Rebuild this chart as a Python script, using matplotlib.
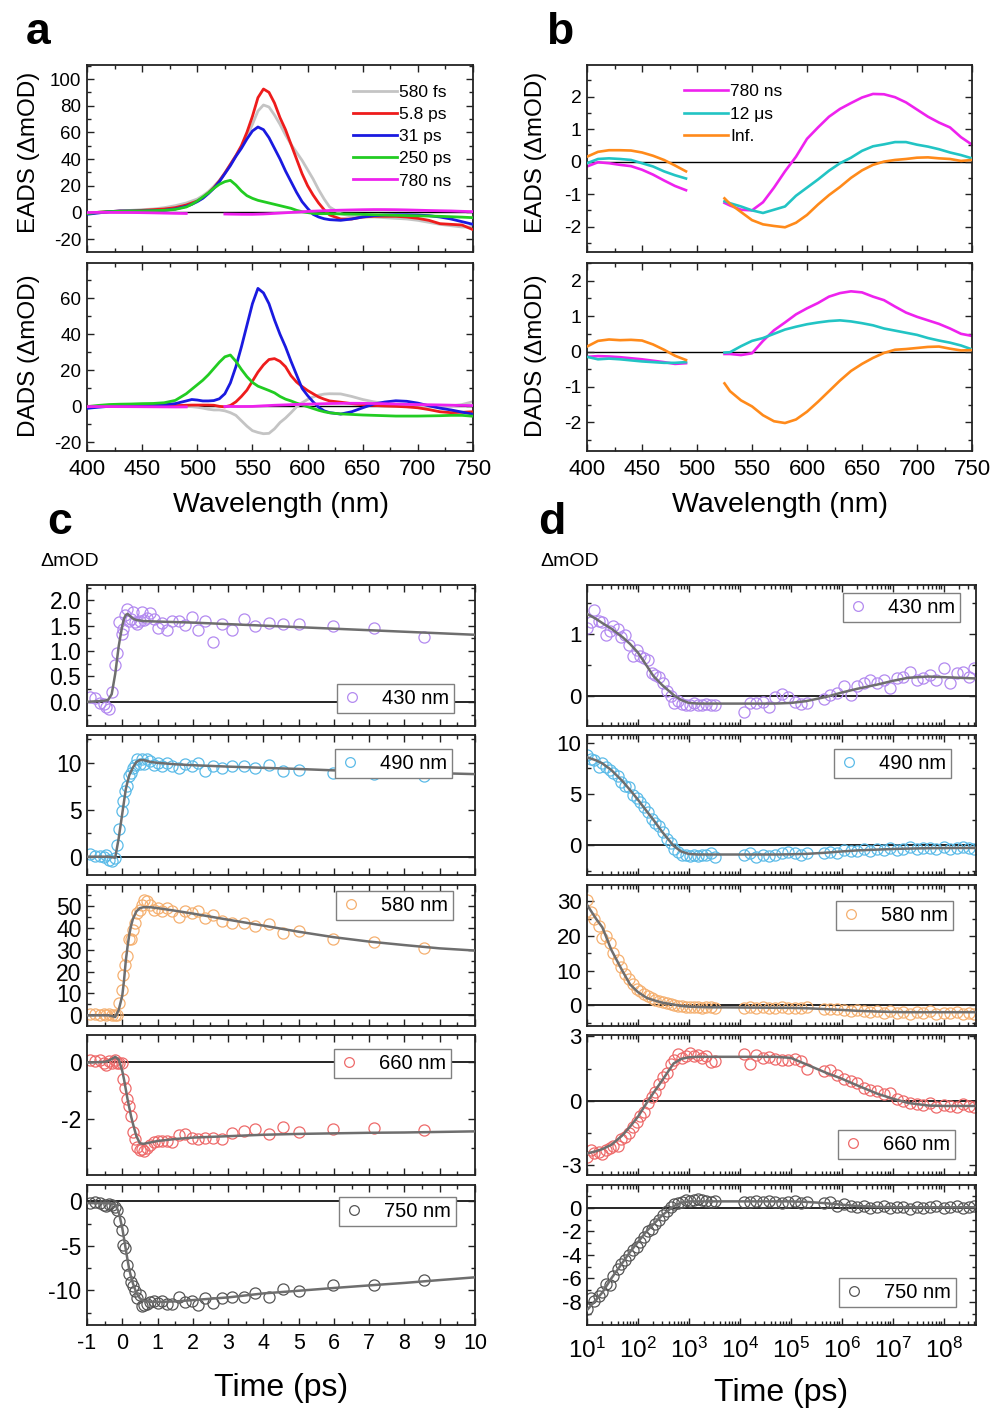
import numpy as np
import matplotlib
matplotlib.use('Agg')
import matplotlib.pyplot as plt
from matplotlib.ticker import MultipleLocator, FormatStrFormatter, LogLocator, NullFormatter
from matplotlib.lines import Line2D

plt.rcParams['font.family'] = ['Liberation Sans', 'DejaVu Sans']
plt.rcParams['mathtext.fontset'] = 'custom'
plt.rcParams['mathtext.rm'] = 'Liberation Sans'
plt.rcParams['mathtext.it'] = 'Liberation Sans:italic'
plt.rcParams['mathtext.bf'] = 'Liberation Sans:bold'
plt.rcParams['axes.unicode_minus'] = False

# ---------------- data: panel a (EADS / DADS, ps components) ----------------
wl_a = [400, 410, 420, 430, 440, 450, 460, 470, 480, 490,
        495, 500, 505, 510, 515, 520, 525, 530, 535, 540, 545, 550, 555, 560, 565,
        570, 575, 580, 585, 590, 595, 600, 605, 610, 615, 620,
        630, 640, 650, 660, 670, 680, 690, 700, 710, 720, 730, 740, 750]

eads_580fs = [-1, 0, 0.5, 1, 1.5, 2, 2.5, 3.5, 5, 7,
              8.5, 10, 12.5, 15.5, 19.5, 24, 29.5, 36, 42.5, 49, 57, 66, 76, 80.5, 79,
              73, 66, 58, 51, 45, 39, 32, 25, 17, 10, 4,
              -1, -3, -3.5, -3.5, -4, -4.5, -5, -6, -7.5, -9, -10, -11, -11]
eads_5p8ps = [-1, 0, 0.5, 1, 1, 1.5, 2, 2.5, 3.5, 5.5,
              7, 8.5, 11, 14.5, 18.5, 23.5, 29.5, 36, 42.5, 50, 60, 72, 86, 92.5, 90,
              82, 71, 62, 51, 40, 29, 20, 13, 7, 2, -2,
              -5, -5, -3.5, -3, -3, -3, -3.5, -4.5, -6, -8.5, -9, -9.5, -13]
eads_31ps = [-1.5, -0.5, 0.5, 1, 1, 1, 1.2, 1.5, 2.5, 4.5,
             6, 8, 10.5, 14, 18, 23, 29, 35, 42, 48, 55, 61, 64, 62, 56,
             48, 40, 31, 23, 15, 8, 3, -1.5, -3.5, -4.8, -5.5,
             -6, -5, -3.5, -2.5, -2, -1.8, -1.8, -2, -2.5, -3.5, -5, -7, -9]
eads_250ps = [-1, 0, 0.5, 0.8, 1, 1, 1.2, 1.5, 2.2, 4,
              6, 8.5, 11.5, 14.5, 18, 21, 23, 24, 20.5, 16, 12.5, 10.5, 9, 8, 7,
              6, 5, 4, 3, 1.5, 0.5, -0.2, -0.8, -1, -1, -1,
              -1.2, -1.3, -1.5, -1.8, -2, -2.2, -2.4, -2.6, -2.8, -3, -3.3, -3.6, -4]

dads_580fs = [0, 0, 0, 0, 0, 0, 0, 0, 0, -0.1,
              -0.2, -0.5, -1, -1.6, -2, -2, -2.5, -3.5, -5, -8, -11, -13.5, -14.5, -15.2, -15,
              -12.5, -9, -6.5, -3.5, -0.3, 2, 3.8, 5.2, 6.2, 6.8, 7,
              6.9, 5.5, 3.8, 2.5, 1.5, 0.6, 0, -0.2, -0.3, -0.2, 0.2, 1, 2.6]
dads_5p8ps = [0, 0, 0, 0, 0, 0, 0, 0.2, 0.4, 0.6,
              0.7, 0.7, 0.7, 0.7, 0.6, 0, -0.3, 0.5, 2.5, 5.5, 9, 14, 19, 23, 26,
              26.5, 25, 22, 17, 13.5, 11, 8.8, 7, 5.2, 4, 3,
              2.3, 1.5, 0.9, 0.5, 0.2, 0, -0.3, -0.8, -1.8, -3, -3.5, -3.3, -3]
dads_31ps = [-1.1, -0.5, 0, 0.3, 0.5, 0.6, 0.7, 0.9, 1.5, 3,
             3.8, 3.5, 3, 3, 3.2, 4.2, 7, 13, 22, 33, 45, 57, 65.5, 63, 57,
             48, 40, 33, 25, 17.5, 10, 6, 2.5, -0.5, -2.5, -3.5,
             -4.3, -3, -0.8, 1.3, 2.4, 3.1, 2.8, 1.8, 0.3, -1, -2, -3.2, -4.4]
dads_250ps = [-0.2, 0.5, 1, 1.2, 1.3, 1.5, 1.6, 2, 3.3, 7,
              9.5, 12, 14.5, 17.5, 21, 24.5, 27.5, 28.5, 25, 20.5, 16.5, 13.3, 11.2, 10, 8.8,
              7.5, 5.5, 4, 3, 1.8, 0.8, -0.2, -1.2, -2.2, -3, -3.6,
              -4.2, -4.5, -4.8, -5, -5.2, -5.4, -5.4, -5.4, -5.3, -5.2, -5, -5, -5.5]

# ---------------- data: panel b (ns/us components) ----------------
wl_b = [400, 410, 420, 430, 440, 450, 460, 470, 480, 490,
        525, 530, 540, 550, 560, 570, 580, 590, 600, 610, 620, 630, 640, 650,
        660, 670, 680, 690, 700, 710, 720, 730, 740, 750]
eads_780ns = [-0.15, -0.02, -0.05, -0.1, -0.14, -0.25, -0.4, -0.58, -0.75, -0.88,
              -1.27, -1.35, -1.48, -1.5, -1.25, -0.8, -0.3, 0.15, 0.7, 1.05, 1.38, 1.62, 1.8, 1.97,
              2.08, 2.07, 1.98, 1.82, 1.6, 1.38, 1.2, 1.05, 0.75, 0.52]
eads_12us = [-0.05, 0.08, 0.1, 0.08, 0.05, -0.05, -0.15, -0.3, -0.42, -0.52,
             -1.22, -1.28, -1.38, -1.5, -1.58, -1.48, -1.38, -1.05, -0.8, -0.55, -0.28, -0.05, 0.12, 0.33,
             0.47, 0.53, 0.6, 0.6, 0.52, 0.46, 0.38, 0.28, 0.2, 0.1]
eads_inf = [0.15, 0.3, 0.35, 0.35, 0.34, 0.28, 0.18, 0.05, -0.12, -0.3,
            -1.13, -1.3, -1.55, -1.8, -1.93, -1.98, -2.02, -1.88, -1.64, -1.32, -1.03, -0.78, -0.5, -0.27,
            -0.1, 0.0, 0.05, 0.08, 0.12, 0.13, 0.1, 0.08, 0.02, 0.05]
dads_780ns = [-0.15, -0.13, -0.14, -0.16, -0.19, -0.22, -0.26, -0.3, -0.35, -0.33,
              -0.07, -0.07, -0.1, -0.05, 0.3, 0.6, 0.82, 1.05, 1.22, 1.37, 1.55, 1.65, 1.7, 1.67,
              1.55, 1.45, 1.27, 1.1, 0.98, 0.88, 0.78, 0.65, 0.5, 0.44]
dads_12us = [-0.15, -0.22, -0.2, -0.22, -0.25, -0.28, -0.3, -0.32, -0.32, -0.3,
             -0.03, -0.02, 0.15, 0.3, 0.38, 0.5, 0.62, 0.7, 0.77, 0.82, 0.86, 0.88, 0.85, 0.8,
             0.74, 0.65, 0.59, 0.53, 0.47, 0.38, 0.31, 0.25, 0.17, 0.06]
dads_inf = [0.14, 0.3, 0.34, 0.32, 0.33, 0.31, 0.2, 0.05, -0.12, -0.24,
            -0.9, -1.12, -1.38, -1.55, -1.8, -1.97, -2.02, -1.92, -1.7, -1.42, -1.12, -0.82, -0.55, -0.35,
            -0.18, -0.04, 0.05, 0.07, 0.1, 0.13, 0.14, 0.08, 0.03, 0.04]

# ---------------- data: panel c (kinetics, linear time) ----------------
t_c = [-0.92, -0.78, -0.64, -0.53, -0.45, -0.37, -0.28, -0.2, -0.14, -0.08, -0.02,
       0.03, 0.08, 0.13, 0.18, 0.24, 0.3, 0.36, 0.42, 0.49, 0.56, 0.63, 0.71, 0.8, 0.9,
       1.0, 1.12, 1.27, 1.42, 1.6, 1.78, 1.97, 2.16, 2.35, 2.56, 2.83, 3.12, 3.45, 3.77,
       4.15, 4.55, 5.0, 5.97, 7.15, 8.55]
c430 = [0.09, 0.08, -0.03, -0.05, -0.1, -0.15, 0.19, 0.72, 0.96, 1.57, 1.33,
        1.44, 1.7, 1.82, 1.6, 1.64, 1.77, 1.57, 1.54, 1.6, 1.77, 1.62, 1.66, 1.75, 1.64,
        1.46, 1.55, 1.41, 1.6, 1.6, 1.51, 1.67, 1.41, 1.59, 1.18, 1.53, 1.41, 1.64, 1.49,
        1.56, 1.53, 1.54, 1.49, 1.46, 1.28]
c490 = [0.28, 0.04, 0.1, -0.07, 0.2, -0.3, -0.43, -0.14, 1.2, 3.0, 4.84,
        5.98, 6.97, 7.5, 8.58, 8.93, 9.47, 9.82, 10.36, 9.9, 10.36, 9.9, 10.36, 10.18, 9.82,
        10.0, 9.64, 10.0, 9.64, 9.4, 9.9, 9.64, 10.0, 9.18, 9.64, 9.4, 9.64, 9.64, 9.4,
        9.75, 9.11, 9.29, 8.93, 8.8, 8.58]
c580 = [0.6, 0.6, 0.3, 0.6, 0.0, 0.6, 0.3, 0.0, 0.0, 5.6, 11.7,
        18.3, 23.2, 27, 35, 35, 39.2, 42.2, 46.8, 48.3, 50.6, 52.9, 52.1, 50.6, 48.3,
        49.1, 47.9, 49.1, 47.6, 44.8, 47.6, 46.8, 47.6, 44.5, 46, 43.3, 42.2, 42.2, 40.7,
        41.8, 37.7, 38.4, 35, 33.5, 30.8]
c660 = [0.09, 0.04, 0.09, -0.02, -0.1, 0.04, -0.02, 0.07, -0.02, -0.02, -0.02,
        -0.6, -0.9, -1.3, -1.55, -1.9, -2.45, -2.7, -2.98, -3.1, -3.05, -3.14, -3.0, -2.92, -2.8,
        -2.78, -2.77, -2.78, -2.8, -2.57, -2.54, -2.66, -2.69, -2.66, -2.66, -2.71, -2.5, -2.41, -2.33,
        -2.54, -2.27, -2.47, -2.33, -2.31, -2.39]
c750 = [-0.19, -0.07, -0.19, -0.37, -0.56, -0.3, -0.45, -0.67, -0.94, -2.17, -3.18,
        -4.87, -5.24, -7.19, -8.16, -9.06, -9.55, -10.1, -10.9, -10.5, -11.8, -11.7, -11.5, -11.3, -11.2,
        -11.4, -11.2, -11.5, -11.5, -10.7, -11.3, -11.2, -11.6, -10.9, -11.4, -10.9, -10.7, -10.7, -10.3,
        -10.8, -9.9, -10.1, -9.44, -9.36, -8.8]

tfit_c = [-1, -0.5, -0.4, -0.3, -0.2, -0.1, 0, 0.05, 0.1, 0.15, 0.2, 0.25, 0.3, 0.4,
          0.5, 0.6, 0.8, 1.0, 1.5, 2, 3, 4, 5, 6, 7, 8, 9, 10]
fit_c430 = [0, 0.02, 0.04, 0.15, 0.55, 1.1, 1.5, 1.64, 1.71, 1.73, 1.7, 1.67, 1.64, 1.61,
            1.6, 1.59, 1.585, 1.58, 1.57, 1.56, 1.53, 1.5, 1.47, 1.44, 1.41, 1.38, 1.35, 1.32]
fit_c490 = [0, 0, 0, -0.05, -0.1, 2.0, 4.6, 5.9, 7.2, 8.0, 8.7, 9.1, 9.5, 10.1,
            10.3, 10.3, 10.1, 10.0, 9.85, 9.75, 9.6, 9.47, 9.35, 9.2, 9.1, 9.0, 8.9, 8.8]
fit_c580 = [0, 0, 0, -0.3, -0.8, 2.5, 9, 16, 25, 31.5, 37, 41, 44, 47.5,
            49, 49.4, 49.4, 49, 47.8, 46.5, 43.7, 41, 38.2, 35.7, 33.7, 32.1, 30.6, 29.6]
fit_c660 = [0, 0.02, 0.06, 0.12, 0.2, 0.1, -0.3, -0.6, -0.95, -1.3, -1.6, -1.9, -2.15, -2.6,
            -2.85, -2.87, -2.82, -2.77, -2.7, -2.65, -2.6, -2.55, -2.52, -2.5, -2.48, -2.47, -2.45, -2.43]
fit_c750 = [-0.2, -0.2, -0.22, -0.25, -0.35, -1.2, -3.0, -4.2, -5.4, -6.6, -7.7, -8.5, -9.2, -10.3,
            -10.9, -11.2, -11.3, -11.3, -11.25, -11.1, -10.8, -10.35, -10.05, -9.74, -9.45, -9.17, -8.85, -8.54]

# ---------------- data: panel d (kinetics, log time) ----------------
t_d = [10, 12, 14, 17, 20, 24, 28, 33, 40, 47, 56, 66, 79, 94, 110, 130, 155, 185, 220, 260,
       310, 370, 440, 520, 620, 740, 880, 1050, 1250, 1500, 1800, 2200, 2700, 3300,
       12000, 16000, 21000, 28000, 37000, 50000, 66000, 88000, 120000, 160000, 210000,
       4.5e5, 6e5, 8e5, 1.1e6, 1.5e6, 2e6, 2.7e6, 3.6e6, 5e6, 6.6e6, 9e6, 1.2e7, 1.6e7,
       2.2e7, 3e7, 4e7, 5.4e7, 7.2e7, 1e8, 1.3e8, 1.8e8, 2.4e8, 3.2e8, 4e8]
d430 = [1.1, 1.19, 1.39, 1.22, 1.2, 0.99, 1.05, 1.14, 1.08, 0.95, 0.98, 0.82, 0.64, 0.74, 0.64,
        0.62, 0.58, 0.36, 0.33, 0.3, 0.2, 0.07, 0.0, -0.12, -0.08, -0.14, -0.15, -0.15, -0.12,
        -0.15, -0.15, -0.13, -0.16, -0.15,
        -0.26, -0.12, -0.125, -0.11, -0.18, -0.02, 0.03, -0.02, -0.1, -0.13, -0.12,
        -0.05, 0.01, 0.04, 0.15, 0.01, 0.15, 0.2, 0.26, 0.2, 0.26, 0.12, 0.28, 0.31, 0.39,
        0.25, 0.28, 0.33, 0.25, 0.45, 0.2, 0.36, 0.39, 0.31, 0.45]
d490 = [8.8, 8.4, 8.3, 7.6, 8.0, 7.6, 7.4, 7.1, 6.8, 6.2, 5.8, 5.7, 4.9, 4.6, 4.2, 3.7, 3.3,
        2.6, 2.2, 1.9, 1.3, 0.6, 0.2, -0.4, -0.7, -0.9, -0.9, -1.0, -0.9, -1.0, -0.9, -0.95,
        -0.8, -1.1,
        -0.9, -0.8, -1.1, -0.9, -1.0, -0.9, -0.8, -0.7, -0.75, -0.9, -0.8,
        -0.8, -0.7, -0.75, -0.5, -0.6, -0.55, -0.4, -0.6, -0.35, -0.5, -0.3, -0.45, -0.35, -0.2,
        -0.4, -0.3, -0.25, -0.4, -0.2, -0.35, -0.3, -0.15, -0.3, -0.4]
d580 = [30.5, 27, 25, 23, 19.5, 20, 18, 15, 13, 11, 9, 7.5, 6, 4.8, 4, 3.2, 2.6, 2.0, 1.6,
        1.3, 0.9, 0.6, 0.3, 0.1, -0.2, -0.3, -0.5, -0.4, -0.6, -0.5, -0.7, -0.6, -0.5, -0.8,
        -0.8, -0.5, -0.9, -0.6, -0.7, -0.9, -0.6, -0.8, -0.7, -0.9, -0.6,
        -1.1, -1.2, -1.0, -1.4, -1.6, -1.3, -1.7, -1.9, -1.6, -2.1, -1.8, -2.2, -1.9, -2.4,
        -2.0, -2.3, -1.8, -2.5, -2.1, -2.3, -1.9, -2.6, -2.2, -2.4]
d660 = [-2.6, -2.3, -2.45, -2.4, -2.5, -2.3, -2.2, -2.1, -2.1, -1.8, -1.7, -1.5, -1.2, -1.0,
        -0.7, -0.5, -0.1, 0.2, 0.4, 0.8, 1.1, 1.3, 1.7, 1.9, 2.2, 2.0, 2.1, 2.25, 2.1, 2.15,
        2.0, 2.1, 1.8, 1.85,
        2.2, 1.7, 2.15, 2.0, 2.05, 1.95, 1.9, 1.9, 1.95, 1.85, 1.5,
        1.4, 1.45, 1.2, 1.0, 0.9, 0.85, 0.6, 0.5, 0.45, 0.3, 0.35, 0.1, 0.0, -0.1, -0.15,
        -0.2, -0.1, -0.3, -0.2, -0.25, -0.3, -0.15, -0.25, -0.3]
d750 = [-8.6, -7.7, -7.9, -7.5, -7.2, -6.5, -6.6, -5.8, -5.2, -4.8, -4.4, -4.0, -3.6, -3.3,
        -2.9, -2.5, -2.0, -1.8, -1.4, -1.0, -0.6, -0.3, 0.1, 0.3, 0.4, 0.5, 0.7, 0.6, 0.7, 0.8,
        0.7, 0.6, 0.5, 0.6,
        0.5, 0.5, 0.6, 0.5, 0.6, 0.5, 0.4, 0.5, 0.6, 0.4, 0.5,
        0.4, 0.5, 0.2, 0.3, 0.2, 0.1, 0.2, 0.0, 0.1, 0.2, 0.0, 0.1, 0.1, -0.1, 0.1, 0.0,
        0.1, 0.2, 0.0, 0.1, 0.2, 0.0, 0.1, 0.2]

tfit_d = [10, 15, 20, 30, 50, 70, 100, 150, 200, 300, 500, 700, 1000, 1500, 2000, 3000,
          5000, 1e4, 2e4, 5e4, 1e5, 2e5, 5e5, 1e6, 2e6, 5e6, 1e7, 2e7, 5e7, 1e8, 2e8, 4e8]
fit_d430 = [1.33, 1.25, 1.18, 1.09, 0.95, 0.84, 0.7, 0.48, 0.32, 0.17, 0.01, -0.07, -0.12,
            -0.13, -0.13, -0.13, -0.13, -0.13, -0.13, -0.13, -0.12, -0.09, -0.02, 0.05, 0.11,
            0.18, 0.24, 0.29, 0.31, 0.3, 0.29, 0.28]
fit_d490 = [8.6, 8.3, 8.0, 7.35, 6.25, 5.4, 4.45, 3.3, 2.5, 1.3, -0.05, -0.6, -0.85, -0.9,
            -0.9, -0.9, -0.9, -0.9, -0.9, -0.9, -0.88, -0.84, -0.72, -0.6, -0.5, -0.42, -0.36,
            -0.32, -0.28, -0.27, -0.26, -0.26]
fit_d580 = [29, 25, 22.5, 16, 9.8, 6, 3.8, 2.1, 1.5, 0.75, 0.2, -0.2, -0.4, -0.5, -0.55, -0.6,
            -0.62, -0.65, -0.68, -0.72, -0.75, -0.85, -1.12, -1.35, -1.6, -1.82, -1.95, -2.0,
            -2.0, -2.0, -2.0, -2.0]
fit_d660 = [-2.45, -2.35, -2.25, -2.05, -1.6, -1.2, -0.74, -0.08, 0.36, 0.96, 1.74, 1.95, 2.03,
            2.05, 2.05, 2.05, 2.05, 2.05, 2.05, 2.05, 2.0, 1.7, 1.3, 1.03, 0.72, 0.33, 0.1, -0.1,
            -0.22, -0.24, -0.24, -0.24]
fit_d750 = [-8.7, -7.82, -7.2, -6.0, -4.65, -3.75, -2.9, -1.95, -1.4, -0.62, 0.15, 0.45, 0.56,
            0.56, 0.56, 0.56, 0.56, 0.56, 0.56, 0.56, 0.56, 0.52, 0.4, 0.28, 0.17, 0.09, 0.07,
            0.06, 0.06, 0.06, 0.06, 0.06]

labels_a = ['580 fs', '5.8 ps', '31 ps', '250 ps', '780 ns']
labels_b = ['780 ns', '12 μs', 'Inf.']
kin_labels = ['430 nm', '490 nm', '580 nm', '660 nm', '750 nm']

# ---------------- styling ----------------
W, H = 994, 1414
fig = plt.figure(figsize=(W / 100, H / 100), dpi=100)

def add_ax(l, t, r, b):
    return fig.add_axes([l / W, 1 - b / H, (r - l) / W, (b - t) / H])

def style(ax, ylab=13, xlab=16, xpad=6):
    for s in ax.spines.values():
        s.set_linewidth(1.3)
        s.set_color('#222222')
    ax.tick_params(which='both', direction='in', top=True, right=True, width=1.0, color='#222222')
    ax.tick_params(which='major', length=5)
    ax.tick_params(which='minor', length=3)
    ax.tick_params(axis='y', labelsize=ylab, pad=4)
    ax.tick_params(axis='x', labelsize=xlab, pad=xpad)

def gap(x, y):
    x = np.asarray(x, float); y = np.asarray(y, float)
    idx = np.where(np.diff(x) > 20)[0]
    return np.insert(x, idx + 1, np.nan), np.insert(y, idx + 1, np.nan)

c_grey, c_red, c_blue, c_green, c_mag = '#c4c4c4', '#ee1c1c', '#1a1ae0', '#22cc22', '#ee22ee'
c_cyan, c_orange = '#22c4c4', '#ff8a1a'

# ---- panel a ----
axa1 = add_ax(87, 65, 473, 252)
axa2 = add_ax(87, 263, 473, 451)
for ax, series, ylim in [(axa1, [eads_580fs, eads_5p8ps, eads_31ps, eads_250ps, eads_780ns], (-29.75, 110.5)),
                         (axa2, [dads_580fs, dads_5p8ps, dads_31ps, dads_250ps, dads_780ns], (-24.8, 79.6))]:
    ax.axhline(0, color='k', lw=1.0, zorder=1)
    cols = [c_grey, c_red, c_blue, c_green, c_mag]
    for i, (s, col) in enumerate(zip(series, cols)):
        if i == 4:
            xx, yy = gap(wl_b, s)
        else:
            xx, yy = wl_a, s
        ax.plot(xx, yy, color=col, lw=2.0, label=labels_a[i], zorder=2 + i)
    ax.set_xlim(400, 750)
    ax.set_ylim(*ylim)
    ax.xaxis.set_major_locator(MultipleLocator(50))
    ax.xaxis.set_minor_locator(MultipleLocator(25))
    ax.yaxis.set_major_locator(MultipleLocator(20))
    ax.yaxis.set_minor_locator(MultipleLocator(10))
    style(ax, ylab=13.5, xlab=16)
axa1.tick_params(axis='x', labelbottom=False)
axa1.legend(loc='upper left', bbox_to_anchor=(353 / W, 1 - 85 / H), bbox_transform=fig.transFigure,
            frameon=False, fontsize=12.5, handlelength=2.55, handletextpad=0.1,
            labelspacing=0.4, borderpad=0, borderaxespad=0)

# ---- panel b ----
axb1 = add_ax(587, 65, 972, 252)
axb2 = add_ax(587, 263, 972, 451)
for ax, series, ylim in [(axb1, [eads_780ns, eads_12us, eads_inf], (-2.78, 2.97)),
                         (axb2, [dads_780ns, dads_12us, dads_inf], (-2.81, 2.5))]:
    ax.axhline(0, color='k', lw=1.0, zorder=1)
    for i, (s, col) in enumerate(zip(series, [c_mag, c_cyan, c_orange])):
        xx, yy = gap(wl_b, s)
        ax.plot(xx, yy, color=col, lw=1.9, label=labels_b[i], zorder=2 + i)
    ax.set_xlim(400, 750)
    ax.set_ylim(*ylim)
    ax.xaxis.set_major_locator(MultipleLocator(50))
    ax.xaxis.set_minor_locator(MultipleLocator(25))
    ax.yaxis.set_major_locator(MultipleLocator(1))
    ax.yaxis.set_minor_locator(MultipleLocator(0.5))
    style(ax, ylab=14, xlab=16)
axb1.tick_params(axis='x', labelbottom=False)
axb1.legend(loc='upper left', bbox_to_anchor=(684 / W, 1 - 84 / H), bbox_transform=fig.transFigure,
            frameon=False, fontsize=12.5, handlelength=2.55, handletextpad=0.1,
            labelspacing=0.42, borderpad=0, borderaxespad=0)

# ---- panels c and d ----
rows = [(585, 725.7), (734.7, 875.3), (884.7, 1025.7), (1034.7, 1175.3), (1184.7, 1325)]
kcols = ['#b38af0', '#5bbbe8', '#f5b070', '#ee6a6a', '#555555']
c_data = [c430, c490, c580, c660, c750]
c_fits = [fit_c430, fit_c490, fit_c580, fit_c660, fit_c750]
c_ylims = [(-0.47, 2.3), (-1.98, 13.0), (-4.75, 59.7), (-3.98, 0.98), (-13.9, 1.87)]
c_ymaj = [0.5, 5, 10, 2, 5]
c_ymin = [0.25, 2.5, 5, 1, 2.5]
c_leg = [(337, 684), (335, 749), (336, 891), (334, 1049), (339, 1197)]

d_data = [d430, d490, d580, d660, d750]
d_fits = [fit_d430, fit_d490, fit_d580, fit_d660, fit_d750]
d_ylims = [(-0.49, 1.8), (-2.93, 10.8), (-5.9, 34.8), (-3.47, 3.08), (-9.97, 1.98)]
d_ymaj = [1, 5, 10, 3, 2]
d_ymin = [0.5, 2.5, 5, 1.5, 1]
d_leg = [(843, 593), (834, 749), (836, 901), (838, 1130), (839, 1278)]

def kin_legend(ax, label, col, pos):
    h = Line2D([], [], marker='o', ls='none', mfc='none', mec=col, ms=7, mew=0.9)
    lg = ax.legend([h], [label], loc='upper left', bbox_to_anchor=(pos[0] / W, 1 - pos[1] / H),
                   bbox_transform=fig.transFigure, fontsize=14.5, handlelength=1.0,
                   handletextpad=1.0, borderpad=0.25, borderaxespad=0, fancybox=False,
                   framealpha=1, edgecolor='#808080')
    lg.get_frame().set_linewidth(1.0)

for i, (top, bot) in enumerate(rows):
    # c
    ax = add_ax(87, top, 475, bot)
    ax.axhline(0, color='k', lw=1.2, zorder=1)
    ax.plot(t_c, c_data[i], ls='none', marker='o', mfc='none', mec=kcols[i], ms=8, mew=0.9, zorder=2)
    ax.plot(tfit_c, c_fits[i], color='#6e6e6e', lw=1.8, zorder=3)
    ax.set_xlim(-1, 10)
    ax.set_ylim(*c_ylims[i])
    ax.xaxis.set_major_locator(MultipleLocator(1))
    ax.xaxis.set_minor_locator(MultipleLocator(0.5))
    ax.yaxis.set_major_locator(MultipleLocator(c_ymaj[i]))
    ax.yaxis.set_minor_locator(MultipleLocator(c_ymin[i]))
    if i == 0:
        ax.yaxis.set_major_formatter(FormatStrFormatter('%.1f'))
    style(ax, ylab=16.5, xlab=15.5, xpad=6)
    if i < 4:
        ax.tick_params(axis='x', labelbottom=False)
    kin_legend(ax, kin_labels[i], kcols[i], c_leg[i])

    # d
    ax = add_ax(587, top, 976, bot)
    ax.axhline(0, color='k', lw=1.2, zorder=1)
    ax.plot(t_d, d_data[i], ls='none', marker='o', mfc='none', mec=kcols[i], ms=8, mew=0.9, zorder=2)
    ax.plot(tfit_d, d_fits[i], color='#6e6e6e', lw=1.8, zorder=3)
    ax.set_xscale('log')
    ax.set_xlim(10, 4.3e8)
    ax.set_ylim(*d_ylims[i])
    ax.xaxis.set_major_locator(LogLocator(base=10, numticks=20))
    ax.xaxis.set_minor_locator(LogLocator(base=10, subs=np.arange(2, 10), numticks=20))
    ax.xaxis.set_minor_formatter(NullFormatter())
    ax.yaxis.set_major_locator(MultipleLocator(d_ymaj[i]))
    ax.yaxis.set_minor_locator(MultipleLocator(d_ymin[i]))
    style(ax, ylab=16, xlab=17.5, xpad=9)
    if i < 4:
        ax.tick_params(axis='x', labelbottom=False)
    kin_legend(ax, kin_labels[i], kcols[i], d_leg[i])

# ---- texts ----
def ft(x, y, s, **kw):
    fig.text(x / W, 1 - y / H, s, **kw)

ft(38, 32, 'a', fontsize=32, fontweight='bold', ha='center', va='center')
ft(560, 32, 'b', fontsize=32, fontweight='bold', ha='center', va='center')
ft(60, 522, 'c', fontsize=32, fontweight='bold', ha='center', va='center')
ft(552, 522, 'd', fontsize=32, fontweight='bold', ha='center', va='center')
ft(29, 152, 'EADS (ΔmOD)', fontsize=17.5, rotation=90, ha='center', va='center')
ft(29, 356, 'DADS (ΔmOD)', fontsize=17.5, rotation=90, ha='center', va='center')
ft(536, 152, 'EADS (ΔmOD)', fontsize=17.5, rotation=90, ha='center', va='center')
ft(536, 356, 'DADS (ΔmOD)', fontsize=17.5, rotation=90, ha='center', va='center')
ft(281, 505, 'Wavelength (nm)', fontsize=20.5, ha='center', va='center')
ft(780, 505, 'Wavelength (nm)', fontsize=20.5, ha='center', va='center')
ft(40, 561, 'ΔmOD', fontsize=14, ha='left', va='center')
ft(540, 561, 'ΔmOD', fontsize=14, ha='left', va='center')
ft(281, 1388, 'Time (ps)', fontsize=23, ha='center', va='center')
ft(781, 1393, 'Time (ps)', fontsize=23, ha='center', va='center')

fig.savefig('out.png', dpi=100)
